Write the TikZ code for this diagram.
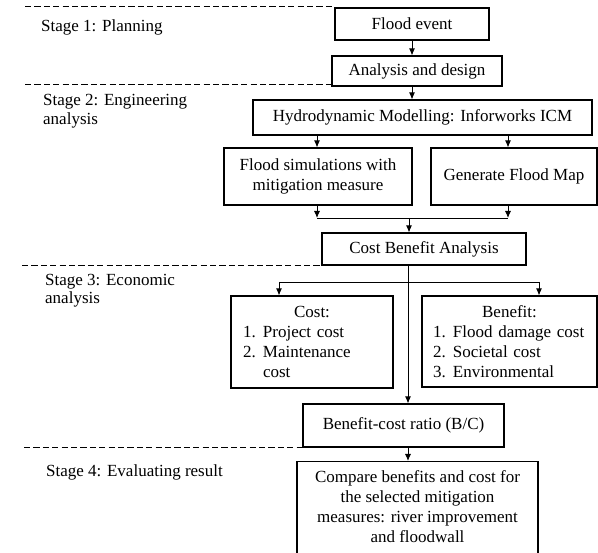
\documentclass[tikz,border=0pt]{standalone}
\usepackage{fontspec}
\setmainfont{Liberation Serif}
\usetikzlibrary{arrows.meta}
\tikzset{
  every node/.style={font=\fontsize{17}{20}\selectfont},
  box/.style={draw, line width=1.1pt, inner sep=2pt, align=center},
  arr/.style={line width=0.9pt, -{Latex[length=7pt,width=6pt]}},
  conn/.style={line width=0.9pt},
  sep/.style={line width=0.8pt, dash pattern=on 6.2pt off 3.2pt},
  stagelbl/.style={anchor=west, inner sep=0pt, align=left, font=\fontsize{17}{18.5}\selectfont}
}
\begin{document}
\begin{tikzpicture}[x=1pt,y=-1pt]
\useasboundingbox (0,0) rectangle (598,553);

% boxes
\node[box, minimum width=154, minimum height=32] (flood) at (412,24) {Flood event};
\node[box, minimum width=170, minimum height=30] (analysis) at (417,71) {Analysis and design};
\node[box, minimum width=339, minimum height=35] (hydro) at (422.5,117.5) {Hydrodynamic Modelling: Inforworks ICM};
\node[box, minimum width=188, minimum height=57] (fsim) at (318,176.5) {Flood simulations with\\mitigation measure};
\node[box, minimum width=166, minimum height=57] (gen) at (514,176.5) {Generate Flood Map};
\node[box, minimum width=204, minimum height=32] (cba) at (424,249) {Cost Benefit Analysis};
\node[box, minimum width=162, minimum height=92, text width=158pt, align=left] (cost) at (312,342)
  {\makebox[158pt]{Cost:}\\
   \hspace*{10pt}\makebox[20pt][l]{1.}Project cost\\
   \hspace*{10pt}\makebox[20pt][l]{2.}Maintenance\\
   \hspace*{30pt}cost};
\node[box, minimum width=175, minimum height=91, text width=171pt, align=left] (benefit) at (509.5,341.5)
  {\makebox[171pt]{Benefit:}\\
   \hspace*{9pt}\makebox[20pt][l]{1.}Flood damage cost\\
   \hspace*{9pt}\makebox[20pt][l]{2.}Societal cost\\
   \hspace*{9pt}\makebox[20pt][l]{3.}Environmental};
\node[box, minimum width=201, minimum height=43] (bc) at (403.5,425.5) {Benefit-cost ratio (B/C)};
\node[box, minimum width=241, anchor=north, inner ysep=9pt, text depth=14pt] (compare) at (417.5,461)
  {Compare benefits and cost for\\the selected mitigation\\measures: river improvement\\and floodwall};

% stage labels
\node[stagelbl] (s1) at (41,27) {Stage 1: Planning};
\node[stagelbl] (s2) at (43,111) {Stage 2: Engineering\\analysis};
\node[stagelbl] (s3) at (45,290.5) {Stage 3: Economic\\analysis};
\node[stagelbl] (s4) at (46,472) {Stage 4: Evaluating result};

% separators
\coordinate (d1) at (25,6);
\coordinate (d2) at (25,84);
\coordinate (d3) at (22,265);
\coordinate (d4) at (24,447);
\draw[sep] (d1) -- (d1 -| flood.west);
\draw[sep] (d2) -- (d2 -| analysis.west);
\draw[sep] (d3) -- (d3 -| cba.west);
\draw[sep] (d4) -- (d4 -| bc.west);

% connectors
\coordinate (gx) at (508,0);
\coordinate (jl) at (317,218);
\coordinate (jr) at (508,218);
\coordinate (jm) at (409,218);
\coordinate (cx) at (408,0);
\coordinate (sl) at (279,282);
\coordinate (sr) at (539,282);

\draw[arr] (flood.south) -- (flood.south |- analysis.north);
\draw[arr] (analysis.south -| flood.south) -- (hydro.north -| flood.south);
\draw[arr] (hydro.south -| jl) -- (fsim.north -| jl);
\draw[arr] (hydro.south -| gx) -- (gen.north -| gx);
\draw[arr] (fsim.south -| jl) -- (jl);
\draw[arr] (gen.south -| gx) -- (jr);
\draw[conn] (jl) -- (jr);
\draw[arr] (jm) -- (cba.north -| jm);
\draw[arr] (cba.south -| cx) -- (bc.north -| cx);
\draw[conn] (sl) -- (sr);
\draw[arr] (sl) -- (cost.north -| sl);
\draw[arr] (sr) -- (benefit.north -| sr);
\draw[arr] (bc.south -| cx) -- (compare.north -| cx);
\end{tikzpicture}
\end{document}
